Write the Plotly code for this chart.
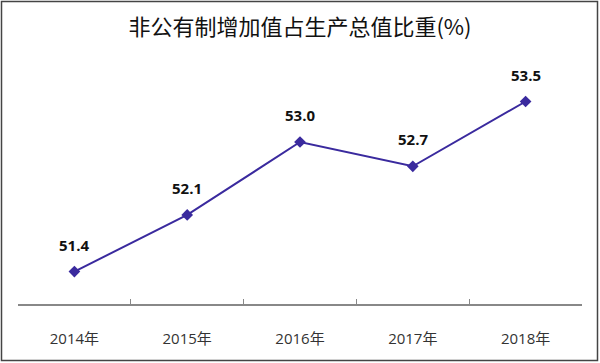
import plotly.graph_objects as go

years = ["2014年", "2015年", "2016年", "2017年", "2018年"]
shares = [51.4, 52.1, 53.0, 52.7, 53.5]
labels = ["51.4", "52.1", "53.0", "52.7", "53.5"]

W, H = 600, 363
L, R, T, B = 18, 18, 61, 59
pw, ph = W - L - R, H - T - B

fig = go.Figure()
fig.add_trace(go.Scatter(
    x=years, y=shares, mode="lines+markers",
    line=dict(color="#3a2a9e", width=2),
    marker=dict(symbol="diamond", size=9, color="#3a2a9e"),
    hoverinfo="skip",
))
for xv, yv, t in zip(years, shares, labels):
    fig.add_annotation(x=xv, y=yv, text="<b>" + t + "</b>", showarrow=False, yshift=27,
                       font=dict(family="Open Sans, Noto Sans CJK SC", size=15, color="#111"),
                       xanchor="center", yanchor="middle")

def px2paper_x(p):
    return (p - L) / pw

def px2paper_y(p):
    return (H - B - p) / ph

fig.add_shape(type="rect", xref="paper", yref="paper",
              x0=px2paper_x(1.5), x1=px2paper_x(597.5),
              y0=px2paper_y(360.5), y1=px2paper_y(1.5),
              line=dict(color="#444", width=1.5), fillcolor="rgba(0,0,0,0)", layer="above")

fig.update_layout(
    width=W, height=H,
    margin=dict(l=L, r=R, t=T, b=B),
    paper_bgcolor="white", plot_bgcolor="white",
    showlegend=False,
    title=dict(text="非公有制增加值占生产总值比重(%)", x=0.5, xanchor="center",
               y=1 - 27 / H, yanchor="middle",
               font=dict(family="Noto Sans CJK SC", size=22, color="#111")),
    xaxis=dict(range=[-0.5, len(years) - 0.5], showgrid=False, zeroline=False,
               showline=True, linecolor="#888", linewidth=1.5,
               ticks="inside", ticklen=5, tickcolor="#888", tickwidth=1, tickson="boundaries",
               ticklabelstandoff=20,
               tickfont=dict(family="Open Sans, Noto Sans CJK SC", size=15, color="#333")),
    yaxis=dict(range=[51, 54], visible=False, showgrid=False, zeroline=False),
)
fig.write_html("out.html", config={"displayModeBar": False},
               post_script="document.body.style.margin='0';document.body.style.padding='0';")
